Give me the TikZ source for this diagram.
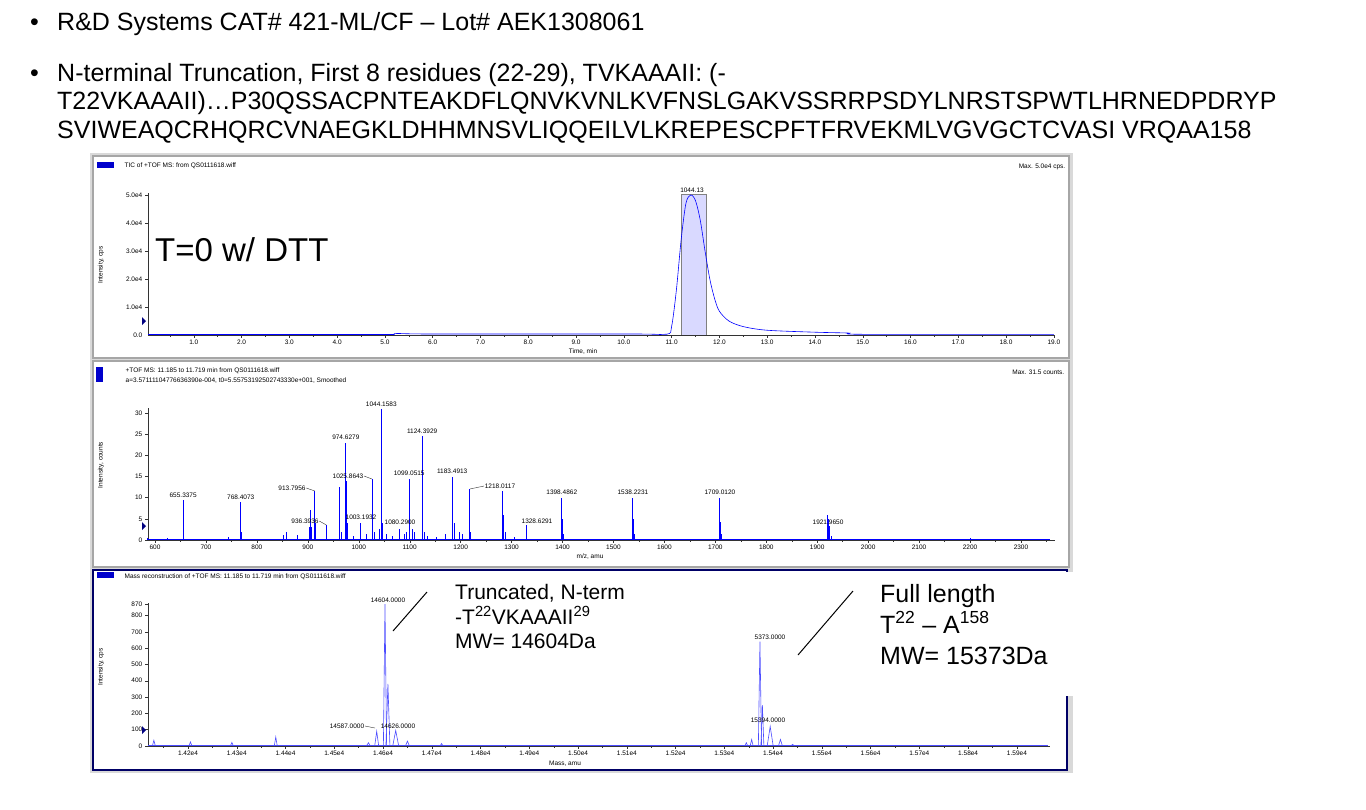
\documentclass[tikz,border=0pt]{standalone}
\usepackage{fontspec}
\setmainfont{Liberation Sans}
\begin{document}
\begin{tikzpicture}[x=1pt,y=-1pt,
  big/.style={font=\fontsize{25}{28}\selectfont,anchor=base west,inner sep=0},
  tiny/.style={font=\fontsize{6.5}{7}\selectfont,inner sep=0.5},
  spec/.style={blue,line width=0.9},
  panel/.style={draw=gray!70,fill=white,line width=1.2},
  ann/.style={inner sep=0,anchor=base west}]
\useasboundingbox (0,0) rectangle (1366,809);
% header text
\node[big] (b1) at (30,30) {•};
\node[big] (t1) at (57,30) {R\&D Systems CAT\# 421-ML/CF – Lot\# AEK1308061};
\node[big] (b2) at (30,81) {•};
\node[big] (t2) at (57,81) {N-terminal Truncation, First 8 residues (22-29), TVKAAAII: (-};
\node[big] (t3) at (57,109) {T22VKAAAII)…P30QSSACPNTEAKDFLQNVKVNLKVFNSLGAKVSSRRPSDYLNRSTSPWTLHRNEDPDRYP};
\node[big] (t4) at (57,138) {SVIWEAQCRHQRCVNAEGKLDHHMNSVLIQQEILVLKREPESCPFTFRVEKMLVGVGCTCVASI VRQAA158};
% frames
\fill[gray!30] (90,153) rectangle (1073,773);
\draw[panel] (93,156) rectangle (1069,358);
\draw[panel] (93,361) rectangle (1069,567);
\draw[panel,draw=blue!40!black] (93,570) rectangle (1067,770);
% ===== panel 1 =====
\fill[blue!80!black] (97,162) rectangle (114,168);
\node[tiny,anchor=west] (p1t) at (124,166) {TIC of +TOF MS: from QS0111618.wiff};
\node[tiny,anchor=east] (p1m) at (1066,167) {Max. 5.0e4 cps.};
\fill[blue!15] (681,194) rectangle (706,335);
\draw[gray] (681,335) -- (681,194) -- (706,194) -- (706,335);
\draw[gray!40!black] (148,193) -- (148,335) -- (1055,335);
\foreach \i in {1,...,5} {
  \draw[gray!40!black] (145,{335-\i*28}) -- (148,{335-\i*28});
  \node[tiny,anchor=east] at (143,{335-\i*28}) {\i.0e4};}
\node[tiny,anchor=east] at (143,335) {0.0};
\foreach \i in {1,...,19} {
  \draw[gray!40!black] ({146+\i*47.78},335) -- ++(0,3);
  \draw[gray!40!black] ({146+(\i-0.5)*47.78},335) -- ++(0,2);
  \node[tiny,anchor=north] at ({146+\i*47.78},339) {\i.0};}
\node[tiny] (p1x) at (583,352) {Time, min};
\node[tiny,rotate=90] (p1y) at (101,265) {Intensity, cps};
\fill[blue!50!black] (142,317) -- (146,321) -- (142,325) -- cycle;
\draw[spec,line width=0.6] plot[smooth] coordinates {
 ({146+5.2*47.78},335) ({146+5.25*47.78},333.5) ({146+6*47.78},334) ({146+10.2*47.78},334) ({146+10.9*47.78},334.2)
 ({146+11.0*47.78},{335-0.3*28}) ({146+11.1*47.78},{335-1.6*28}) ({146+11.2*47.78},{335-3.4*28})
 ({146+11.3*47.78},{335-4.7*28}) ({146+11.4*47.78},{335-5.0*28}) ({146+11.5*47.78},{335-4.8*28})
 ({146+11.6*47.78},{335-4.1*28}) ({146+11.7*47.78},{335-3.0*28}) ({146+11.8*47.78},{335-2.0*28})
 ({146+11.9*47.78},{335-1.3*28}) ({146+12.0*47.78},{335-0.85*28}) ({146+12.2*47.78},{335-0.5*28})
 ({146+12.5*47.78},{335-0.3*28}) ({146+13*47.78},{335-0.17*28}) ({146+14*47.78},{335-0.1*28})
 ({146+14.7*47.78},{335-0.07*28}) ({146+15*47.78},334.3) ({146+19*47.78},334.3)};
\draw[spec,line width=0.6] (148,334.5) -- ({146+5.2*47.78},334.5);
\node[tiny,anchor=south] (p1pk) at (692,193) {1044.13};
\node[font=\fontsize{33}{36}\selectfont,anchor=base west,inner sep=0] (dtt) at (155,261) {T=0 w/ DTT};
% ===== panel 2 =====
\fill[blue!80!black] (96,367) rectangle (103,382);
\node[tiny,anchor=west] (p2t) at (125,371) {+TOF MS: 11.185 to 11.719 min from QS0111618.wiff};
\node[tiny,anchor=west] (p2s) at (125,381) {a=3.57111104776636390e-004, t0=5.55753192502743330e+001, Smoothed};
\node[tiny,anchor=east] (p2m) at (1065,372) {Max. 31.5 counts.};
\draw[gray!40!black] (148,408) -- (148,540) -- (1055,540);
\foreach \i in {0,5,...,30} {
  \draw[gray!40!black] (145,{540-\i*4.233}) -- (148,{540-\i*4.233});
  \node[tiny,anchor=east] at (143,{540-\i*4.233}) {\i};}
\foreach \m in {600,700,...,2300} {
  \draw[gray!40!black] ({155+(\m-600)*0.5094},540) -- ++(0,3);
  \draw[gray!40!black] ({155+(\m-550)*0.5094},540) -- ++(0,2);
  \node[tiny,anchor=north] at ({155+(\m-600)*0.5094},544) {\m};}
\node[tiny] (p2x) at (590,557) {m/z, amu};
\node[tiny,rotate=90] (p2y) at (101,465) {Intensity, counts};
\fill[blue!50!black] (142,522) -- (146,526) -- (142,530) -- cycle;
\foreach \m/\h in {585/0.5,625/0.5,655.3/9.5,656.5/2.5,745/0.6,768.4/9,769.5/2,852/1.3,858/2,880/1.2,903/3,905/7,907/3,913.8/11.5,915/4,936.4/3.5,962/12.5,963/5,966/2,974.6/23,975.6/14,977/4,990/1,1003.2/4,1015/1.5,1025.9/14.5,1027/8,1030/2,1040/2.5,1044.2/31,1045.5/18.5,1047/4,1055/1.5,1067/1,1080.3/2.5,1090/1.5,1093/2,1099.1/14.5,1100/6,1105/2.5,1110/2,1124.4/24.5,1125.5/5.5,1128/2,1135/1,1152/0.6,1170/1.5,1183.5/15,1184.5/8,1187/4,1198/2,1204/1.5,1218/12,1219/2,1283/11.5,1284/6,1287/2,1305/0.6,1328.6/3.5,1398.5/10,1399.5/5,1402/1.5,1538.2/10,1539/5,1541/1.5,1709/10,1710/4.3,1712/1.5,1921/6,1922/5,1924/3.4,1927/1,2200/0.4} {
  \draw[spec] ({155+(\m-600)*0.5094},540) -- ++(0,{-\h*4.233});}
\draw[spec] (148,539.5) -- (1050,539.5);
\foreach \m/\h/\lab in {655.3/9.5/655.3375,768.4/9/768.4073,974.6/23/974.6279,1044.2/31/1044.1583,1099.1/14.5/1099.0515,1124.4/24.5/1124.3929,1183.5/15/1183.4913,1398.5/10/1398.4862,1538.2/10/1538.2231,1709/10/1709.0120}
  \node[tiny,anchor=south] at ({155+(\m-600)*0.5094},{538-\h*4.233}) {\lab};
\node[tiny] (l9138) at (292,488) {913.7956};
\draw[gray!40!black] (l9138.east) -- ({155+313.8*0.5094},491);
\node[tiny] (l10259) at (348,476) {1025.8643};
\draw[gray!40!black] (l10259.east) -- ({155+425.9*0.5094},479);
\node[tiny] (l12180) at (500,486) {1218.0117};
\draw[gray!40!black] (l12180.west) -- ({155+618*0.5094},489);
\node[tiny] (l9364) at (305,521) {936.3936};
\draw[gray!40!black] (l9364.east) -- ({155+336.4*0.5094},525);
\node[tiny] (l10032) at (361,517) {1003.1932};
\node[tiny] (l10803) at (400,522) {1080.2900};
\node[tiny] (l13286) at (537,521) {1328.6291};
\node[tiny] (l19220) at (828,522) {1921.9650};
% ===== panel 3 =====
\fill[blue!80!black] (97,572) rectangle (114,578);
\node[tiny,anchor=west] (p3t) at (124,577) {Mass reconstruction of +TOF MS: 11.185 to 11.719 min from QS0111618.wiff};
\draw[gray!40!black] (148,603) -- (148,746) -- (1050,746);
\foreach \i in {0,100,...,800,870} {
  \draw[gray!40!black] (145,{746-\i*0.1632}) -- (148,{746-\i*0.1632});
  \node[tiny,anchor=east] at (143,{746-\i*0.1632}) {\i};}
\foreach \i in {1,...,18} {
  \pgfmathtruncatemacro{\k}{41+\i}
  \draw[gray!40!black] ({139.24+\i*48.76},746) -- ++(0,3);
  \draw[gray!40!black] ({139.24+(\i-0.5)*48.76},746) -- ++(0,2);
  \node[tiny,anchor=north] at ({139.24+\i*48.76},750) {1.\k e4};}
\node[tiny] (p3x) at (565,764) {Mass, amu};
\node[tiny,rotate=90] (p3y) at (101,667) {Intensity, cps};
\fill[blue!50!black] (142,726) -- (146,730) -- (142,734) -- cycle;
\draw[spec,blue!70,line width=0.6] (148,745.5) -- (1048,745.5);
\foreach \m/\h/\w in {14130/35/1.5,14205/25/1.5,14290/22/1.5,14380/55/1.5,14570/20/2,14587/90/2,14604/870/1.6,14610/380/2,14626/95/3,14650/30/2,14720/15/1.5,15345/20/1.5,15356/40/1.5,15373/640/1.6,15378/250/1.5,15394/120/3,15415/40/2,15440/10/2} {
  \draw[spec,blue!70,line width=0.6] ({188+(\m-14200)*0.4876-\w},746) -- ({188+(\m-14200)*0.4876},{746-\h*0.1632}) -- ({188+(\m-14200)*0.4876+\w},746);}
\node[tiny,anchor=south] (l14604) at (388,603) {14604.0000};
\node[tiny] (l14587) at (347,726) {14587.0000};
\draw[gray!40!black] (l14587.east) -- (375,728);
\node[tiny] (l14626) at (398,726) {14626.0000};
\node[tiny,anchor=south] (l15373) at (770,640) {5373.0000};
\node[tiny] (l15394) at (768,720) {15394.0000};
% white cover and annotations
\fill[white] (867,571.5) rectangle (1075,696);
\node[ann,font=\fontsize{21}{24}\selectfont] (a1) at (455,599) {Truncated, N-term};
\node[ann,font=\fontsize{21}{24}\selectfont] (a2) at (455,624) {-T\textsuperscript{22}VKAAAII\textsuperscript{29}};
\node[ann,font=\fontsize{21}{24}\selectfont] (a3) at (455,648) {MW= 14604Da};
\coordinate (c1a) at (393,631); \coordinate (c1b) at (427,592);
\draw[line width=1] (c1a) -- (c1b);
\node[ann,font=\fontsize{25}{28}\selectfont] (f1) at (880,602) {Full length};
\node[ann,font=\fontsize{25}{28}\selectfont] (f2) at (880,633) {T\textsuperscript{22} – A\textsuperscript{158}};
\node[ann,font=\fontsize{25}{28}\selectfont] (f3) at (880,664) {MW= 15373Da};
\coordinate (c2a) at (798,655); \coordinate (c2b) at (853,591);
\draw[line width=1] (c2a) -- (c2b);
\end{tikzpicture}
\end{document}
